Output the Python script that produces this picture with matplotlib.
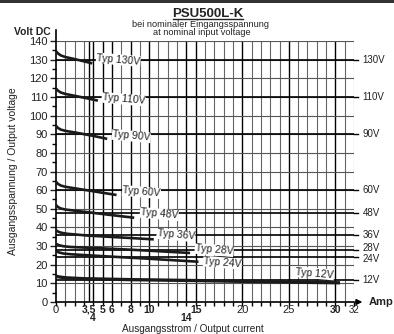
import matplotlib
matplotlib.use("Agg")
import matplotlib.pyplot as plt
from matplotlib.patches import Rectangle
from matplotlib.lines import Line2D
from matplotlib.transforms import blended_transform_factory

plt.rcParams['font.family'] = ['Liberation Sans', 'DejaVu Sans']

# Output voltage curves (current A, voltage V)
names = ["130V", "110V", "90V", "60V", "48V", "36V", "28V", "24V", "12V"]
cur = [
    [0, 0.2, 0.5, 1.0, 2.0, 3.0, 3.9],
    [0, 0.2, 0.5, 1.0, 2.0, 3.3, 4.5],
    [0, 0.2, 0.5, 1.0, 2.2, 4.0, 5.5],
    [0, 0.2, 0.5, 1.0, 2.5, 4.5, 6.5],
    [0, 0.2, 0.5, 1.0, 3.0, 5.5, 8.4],
    [0, 0.25, 0.6, 1.2, 3.5, 7.0, 10.5],
    [0, 0.3, 0.8, 1.6, 4.5, 9.0, 14.4],
    [0, 0.3, 0.8, 1.6, 5.0, 10.0, 15.3],
    [0, 0.4, 1.0, 3.0, 8.0, 15.0, 22.0, 30.5],
]
volt = [
    [134.5, 133.4, 132.3, 131.4, 130.3, 129.1, 128.0],
    [114.5, 113.4, 112.4, 111.6, 110.6, 109.3, 108.0],
    [94.5, 93.4, 92.5, 91.8, 90.8, 89.1, 87.5],
    [64.5, 63.4, 62.5, 61.8, 60.6, 59.0, 57.4],
    [52.0, 51.0, 50.2, 49.6, 48.4, 46.9, 45.2],
    [38.5, 37.7, 37.1, 36.6, 35.6, 34.6, 33.6],
    [31.2, 30.5, 29.9, 29.5, 28.9, 27.8, 26.3],
    [27.3, 26.6, 26.0, 25.6, 24.6, 23.2, 21.6],
    [13.8, 13.4, 13.0, 12.5, 12.0, 11.5, 10.9, 10.3],
]
label_x = [4.3, 4.9, 6.0, 7.1, 9.0, 10.8, 14.9, 15.8, 25.7]
label_y = [130.0, 108.8, 89.0, 59.0, 47.2, 35.9, 27.9, 21.1, 15.4]

nominal = [130, 110, 90, 60, 48, 36, 28, 24, 12]
xtick_vals = [0, 3.5, 4, 5, 6, 8, 10, 14, 15, 20, 25, 30, 32]
xtick_text = ["0", "3,5", "4", "5", "6", "8", "10", "14", "15", "20", "25", "30", "32"]
xtick_bold = [False, True, True, True, True, True, True, True, True, False, False, True, False]
xtick_low = [False, False, True, False, False, False, False, True, False, False, False, False, False]

fig = plt.figure(figsize=(3.94, 3.34), dpi=100)
ax = fig.add_axes([56 / 394, 32 / 334, 298 / 394, 261 / 334])
ax.set_xlim(0, 32)
ax.set_ylim(0, 140)

# grid
for i in range(1, 33):
    heavy = i in (4, 5, 6, 8, 10, 14, 15, 20, 25, 30)
    ax.axvline(i, color="black" if heavy else "#666666", lw=1.0 if heavy else 0.8, zorder=1)
ax.axvline(3.5, color="black", lw=1.0, zorder=1)
for v in range(10, 141, 10):
    ax.axhline(v, color="#555555", lw=0.8, zorder=1)
for v in nominal:
    ax.axhline(v, color="black", lw=1.2, zorder=1)
    ax.plot([32, 32.45], [v, v], color="black", lw=1.0, clip_on=False)
    nudge = {28: 0.8, 24: -0.8}.get(v, 0)
    ax.text(32.9, v + nudge, f"{v}V", fontsize=7, va="center", ha="left", color="#222222")

# curves
for i, (x, y) in enumerate(zip(cur, volt)):
    ax.plot(x, y, color="#1a1a1a", lw=2.4 if names[i] == "12V" else 1.9,
            solid_capstyle="butt", solid_joinstyle="round", zorder=3)
    ax.text(label_x[i], label_y[i], "Typ " + names[i], fontsize=7.5, rotation=-5,
            va="center", ha="left", color="#222222", zorder=4,
            bbox=dict(facecolor="white", edgecolor="none", pad=0.3))

# axes styling
for s in ("top", "right"):
    ax.spines[s].set_visible(False)
ax.spines["left"].set_linewidth(1.2)
ax.spines["bottom"].set_linewidth(1.2)
ax.spines["left"].set_bounds(0, 146)
ax.set_yticks(range(0, 141, 10))
ax.set_yticks(range(5, 140, 10), minor=True)
ax.tick_params(axis="y", which="major", length=4, width=1, labelsize=8, pad=2, colors="#222222")
ax.tick_params(axis="y", which="minor", length=3, width=1)
ax.set_xticks(range(0, 33))
ax.tick_params(axis="x", which="major", length=3, width=1, labelbottom=False)

tr = blended_transform_factory(ax.transData, ax.transAxes)
for xv, t, b, low in zip(xtick_vals, xtick_text, xtick_bold, xtick_low):
    ax.text(xv, -0.063 if low else -0.03, t, transform=tr, ha="center", va="center",
            fontsize=7.5 if b else (7 if t == "32" else 8),
            fontweight="bold" if b else "normal", color="#222222")

# x axis arrow
ax.annotate("", xy=(33.2, 0), xytext=(31.9, 0), xycoords="data",
            arrowprops=dict(arrowstyle="-|>", color="black", lw=1.2, mutation_scale=8),
            annotation_clip=False)
ax.text(33.6, 0, "Amp", fontsize=8, fontweight="bold", va="center", ha="left", color="#222222")
fig.text(14 / 394, 1 - 32 / 334, "Volt DC", fontsize=7.5, fontweight="bold", va="center", ha="left",
         color="#222222")

ax.set_ylabel("Ausgangsspannung / Output voltage", fontsize=7.5, color="#222222", labelpad=8)
fig.text(193 / 394, 1 - 328.5 / 334, "Ausgangsstrom / Output current", fontsize=7.2,
         ha="center", va="center", color="#222222")

# title
fig.text(208 / 394, 1 - 17 / 334, "PSU500L-K", fontsize=9.5, fontweight="bold",
         ha="center", va="baseline", color="#222222")
fig.add_artist(Line2D([173 / 394, 243 / 394], [1 - 18.8 / 334, 1 - 18.8 / 334],
                      color="#222222", lw=1.0, transform=fig.transFigure))
fig.text(201 / 394, 1 - 27 / 334, "bei nominaler Eingangsspannung", fontsize=6.6,
         ha="center", va="baseline", color="#222222")
fig.text(202 / 394, 1 - 35 / 334, "at nominal input voltage", fontsize=6.6,
         ha="center", va="baseline", color="#222222")

fig.add_artist(Rectangle((0, 1 - 3 / 334), 1, 3 / 334, transform=fig.transFigure,
                         facecolor="#333333", edgecolor="none"))

fig.savefig("out.png", dpi=100)
